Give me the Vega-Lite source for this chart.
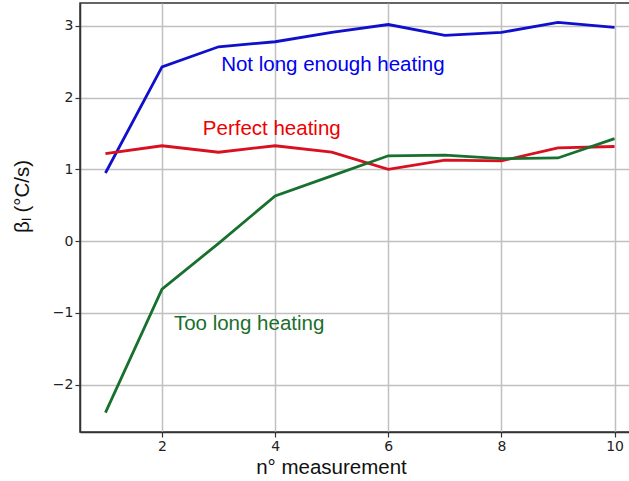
{
  "$schema": "https://vega.github.io/schema/vega-lite/v6.json",
  "width": 560,
  "height": 429,
  "autosize": {"type": "none"},
  "padding": {"left": 80, "top": 3, "right": 0, "bottom": 49},
  "background": "white",
  "config": {
    "view": {"stroke": "#333333", "strokeWidth": 1.5},
    "axis": {
      "grid": true, "gridColor": "#c0c0c0", "gridWidth": 1.5,
      "domainColor": "#333333", "domainWidth": 1.5,
      "tickColor": "#333333", "tickSize": 5, "tickWidth": 1.2,
      "labelFont": "DejaVu Sans", "labelFontSize": 14, "labelColor": "#222222",
      "titleFont": "Liberation Sans", "titleFontSize": 20.5, "titleFontWeight": "normal", "titleColor": "#111111"
    }
  },
  "datasets": {
    "series": [
      {"n": 1, "beta": 0.95, "s": "blue"}, {"n": 2, "beta": 2.43, "s": "blue"}, {"n": 3, "beta": 2.71, "s": "blue"},
      {"n": 4, "beta": 2.78, "s": "blue"}, {"n": 5, "beta": 2.91, "s": "blue"}, {"n": 6, "beta": 3.02, "s": "blue"},
      {"n": 7, "beta": 2.87, "s": "blue"}, {"n": 8, "beta": 2.91, "s": "blue"}, {"n": 9, "beta": 3.05, "s": "blue"},
      {"n": 10, "beta": 2.98, "s": "blue"},
      {"n": 1, "beta": 1.22, "s": "red"}, {"n": 2, "beta": 1.33, "s": "red"}, {"n": 3, "beta": 1.24, "s": "red"},
      {"n": 4, "beta": 1.33, "s": "red"}, {"n": 5, "beta": 1.24, "s": "red"}, {"n": 6, "beta": 1.0, "s": "red"},
      {"n": 7, "beta": 1.13, "s": "red"}, {"n": 8, "beta": 1.12, "s": "red"}, {"n": 9, "beta": 1.30, "s": "red"},
      {"n": 10, "beta": 1.32, "s": "red"},
      {"n": 1, "beta": -2.39, "s": "green"}, {"n": 2, "beta": -0.67, "s": "green"}, {"n": 3, "beta": -0.03, "s": "green"},
      {"n": 4, "beta": 0.63, "s": "green"}, {"n": 5, "beta": 0.91, "s": "green"}, {"n": 6, "beta": 1.19, "s": "green"},
      {"n": 7, "beta": 1.2, "s": "green"}, {"n": 8, "beta": 1.15, "s": "green"}, {"n": 9, "beta": 1.16, "s": "green"},
      {"n": 10, "beta": 1.43, "s": "green"}
    ],
    "labels": [
      {"n": 5.02, "beta": 2.45, "t": "Not long enough heating", "s": "blue"},
      {"n": 3.94, "beta": 1.57, "t": "Perfect heating", "s": "red"},
      {"n": 3.54, "beta": -1.16, "t": "Too long heating", "s": "green"}
    ]
  },
  "layer": [
    {
      "data": {"name": "series"},
      "mark": {"type": "line", "strokeWidth": 2.8},
      "encoding": {
        "x": {"field": "n", "type": "quantitative", "scale": {"domain": [0.55, 10.45], "nice": false, "zero": false},
              "axis": {"values": [2, 4, 6, 8, 10], "format": "d", "title": "n° measurement", "titleX": 251, "titleAlign": "center", "titleAnchor": null, "titlePadding": 4}},
        "y": {"field": "beta", "type": "quantitative", "scale": {"domain": [-2.66, 3.32], "nice": false, "zero": false},
              "axis": {"values": [-2, -1, 0, 1, 2, 3], "format": "d", "title": "βₗ (°C/s)", "titleY": 193, "titleAlign": "center", "titleAnchor": null, "titlePadding": 20, "labelExpr": "replace(datum.label, '-', '−')"}},
        "color": {"field": "s", "type": "nominal", "legend": null,
                  "scale": {"domain": ["blue", "red", "green"], "range": ["#1010cc", "#d81020", "#18702e"]}}
      }
    },
    {
      "data": {"name": "labels"},
      "mark": {"type": "text", "font": "Liberation Sans", "fontSize": 20.5, "align": "center", "baseline": "middle"},
      "encoding": {
        "x": {"field": "n", "type": "quantitative"},
        "y": {"field": "beta", "type": "quantitative"},
        "text": {"field": "t"},
        "color": {"field": "s", "type": "nominal", "legend": null,
                  "scale": {"domain": ["blue", "red", "green"], "range": ["#0000ee", "#ee0000", "#1a6e2a"]}}
      }
    }
  ],
  "resolve": {"scale": {"color": "independent"}}
}
